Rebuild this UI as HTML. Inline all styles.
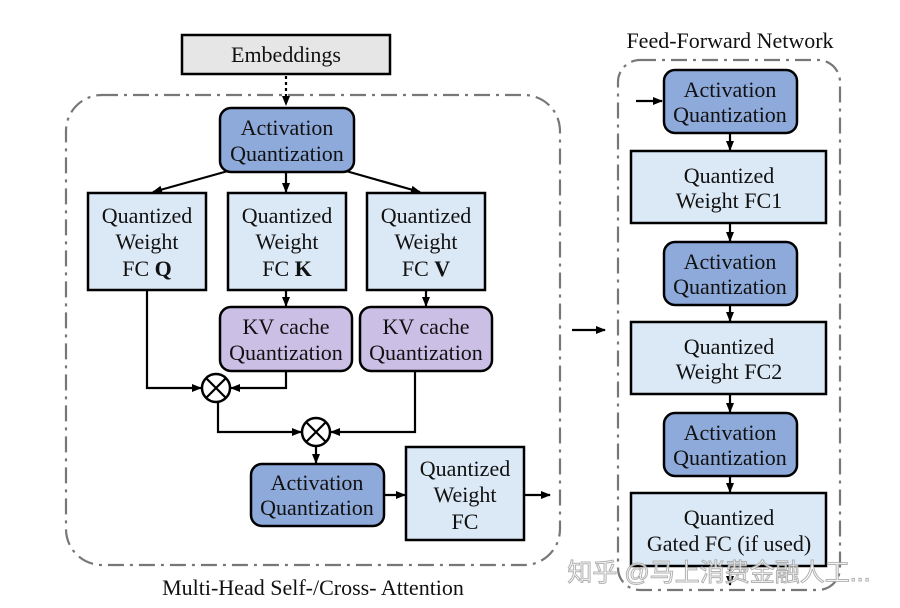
<!DOCTYPE html>
<html><head><meta charset="utf-8"><style>
html,body{margin:0;padding:0;background:#fff;}
svg{display:block;}
text{font-family:"Liberation Serif",serif;font-size:22px;fill:#111;text-anchor:middle;}
</style></head><body>
<svg width="900" height="608" viewBox="0 0 900 608" xmlns="http://www.w3.org/2000/svg">
<defs>
<marker id="a" markerWidth="10" markerHeight="10" refX="9" refY="5" orient="auto" markerUnits="userSpaceOnUse">
<path d="M0,1 L10,5 L0,9 Z" fill="#000"/></marker>
</defs>
<g fill="none" stroke="#777" stroke-width="2.2" stroke-dasharray="16,6,3,6">
<rect x="66" y="95" width="494" height="470" rx="36"/>
<rect x="618" y="60" width="222" height="530" rx="22"/>
</g>
<g stroke="#000" stroke-width="2.2" fill="none">
<line x1="286" y1="76" x2="286" y2="105" stroke-dasharray="3,3" marker-end="url(#a)"/>
<line x1="228" y1="171" x2="153" y2="192" marker-end="url(#a)"/>
<line x1="286" y1="172" x2="286" y2="192" marker-end="url(#a)"/>
<line x1="346" y1="171" x2="420" y2="192" marker-end="url(#a)"/>
<line x1="286" y1="290" x2="286" y2="306" marker-end="url(#a)"/>
<line x1="426" y1="290" x2="426" y2="306" marker-end="url(#a)"/>
<polyline points="147,290 147,388 201,388" marker-end="url(#a)"/>
<polyline points="286,371 286,388 231,388" marker-end="url(#a)"/>
<polyline points="218,402 218,432 301,432" marker-end="url(#a)"/>
<polyline points="415,371 415,432 331,432" marker-end="url(#a)"/>
<line x1="316" y1="446" x2="316" y2="463" marker-end="url(#a)"/>
<line x1="384" y1="495" x2="405" y2="495" marker-end="url(#a)"/>
<line x1="525" y1="495" x2="550" y2="495" marker-end="url(#a)"/>
<line x1="572" y1="330" x2="605" y2="330" marker-end="url(#a)"/>
<line x1="636" y1="101" x2="662" y2="101" marker-end="url(#a)"/>
<line x1="730" y1="133" x2="730" y2="150" marker-end="url(#a)"/>
<line x1="730" y1="223" x2="730" y2="241" marker-end="url(#a)"/>
<line x1="730" y1="305" x2="730" y2="321" marker-end="url(#a)"/>
<line x1="730" y1="394" x2="730" y2="412" marker-end="url(#a)"/>
<line x1="730" y1="476" x2="730" y2="492" marker-end="url(#a)"/>
<line x1="730" y1="566" x2="730" y2="585" marker-end="url(#a)"/>
</g>
<g stroke="#000" stroke-width="2.5">
<rect x="182" y="35" width="208" height="39" fill="#e6e6e6"/>
<rect x="220" y="108" width="134" height="64" rx="11" fill="#8eaadb"/>
<rect x="88" y="193" width="118" height="97" fill="#dbe8f5"/>
<rect x="228" y="193" width="118" height="97" fill="#dbe8f5"/>
<rect x="367" y="193" width="118" height="97" fill="#dbe8f5"/>
<rect x="220" y="307" width="132" height="64" rx="11" fill="#cbbfe5"/>
<rect x="360" y="307" width="132" height="64" rx="11" fill="#cbbfe5"/>
<rect x="251" y="464" width="133" height="62" rx="11" fill="#8eaadb"/>
<rect x="406" y="447" width="118" height="93" fill="#dbe8f5"/>
<rect x="664" y="70" width="133" height="63" rx="11" fill="#8eaadb"/>
<rect x="631" y="151" width="195" height="72" fill="#dbe8f5"/>
<rect x="664" y="242" width="133" height="63" rx="11" fill="#8eaadb"/>
<rect x="631" y="322" width="195" height="72" fill="#dbe8f5"/>
<rect x="664" y="413" width="133" height="63" rx="11" fill="#8eaadb"/>
<rect x="631" y="493" width="195" height="73" fill="#dbe8f5"/>
<g fill="#fff"><circle cx="216" cy="388" r="14"/><circle cx="316" cy="432" r="14"/></g>
<path d="M206,378 L226,398 M226,378 L206,398 M306,422 L326,442 M326,422 L306,442" fill="none" stroke-width="2.2"/>
</g>
<text x="286" y="62">Embeddings</text>
<text x="287" y="135">Activation</text><text x="287" y="161">Quantization</text>
<text x="147" y="223">Quantized</text><text x="147" y="249">Weight</text><text x="147" y="276">FC <tspan font-weight="bold">Q</tspan></text>
<text x="287" y="223">Quantized</text><text x="287" y="249">Weight</text><text x="287" y="276">FC <tspan font-weight="bold">K</tspan></text>
<text x="426" y="223">Quantized</text><text x="426" y="249">Weight</text><text x="426" y="276">FC <tspan font-weight="bold">V</tspan></text>
<text x="286" y="334">KV cache</text><text x="286" y="360">Quantization</text>
<text x="426" y="334">KV cache</text><text x="426" y="360">Quantization</text>
<text x="317" y="490">Activation</text><text x="317" y="515">Quantization</text>
<text x="465" y="476">Quantized</text><text x="465" y="502">Weight</text><text x="465" y="529">FC</text>
<text x="313" y="595">Multi-Head Self-/Cross- Attention</text>
<text x="730" y="48">Feed-Forward Network</text>
<text x="730" y="97">Activation</text><text x="730" y="122">Quantization</text>
<text x="729" y="183">Quantized</text><text x="729" y="208">Weight FC1</text>
<text x="730" y="269">Activation</text><text x="730" y="294">Quantization</text>
<text x="729" y="354">Quantized</text><text x="729" y="379">Weight FC2</text>
<text x="730" y="440">Activation</text><text x="730" y="465">Quantization</text>
<text x="729" y="525">Quantized</text><text x="729" y="551">Gated FC (if used)</text>
<text x="719" y="581" style="font-family:'Liberation Sans','Noto Sans CJK SC',sans-serif;font-size:25px;fill:#ffffff;stroke:#aaa;stroke-width:1;opacity:0.9">知乎 @马上消费金融人工...</text>
</svg>
</body></html>
